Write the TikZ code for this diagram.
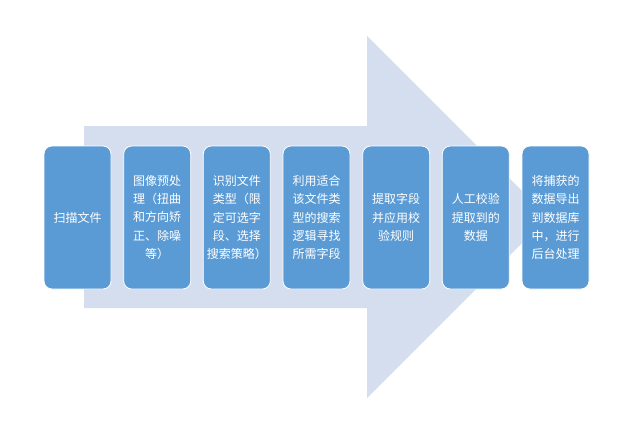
\documentclass[tikz,border=0pt]{standalone}
\usepackage{fontspec}
\newfontfamily\cjk{Noto Sans CJK SC}
\definecolor{arrowfill}{HTML}{D4DEEF}
\definecolor{boxfill}{HTML}{5B9BD5}
\tikzset{
  stepbox/.style={draw=white, line width=0.8pt, fill=boxfill, rounded corners=8pt,
    minimum width=67pt, minimum height=143pt, inner sep=0pt, align=center,
    text=white, font=\cjk\fontsize{12}{18.4}\selectfont},
}
\begin{document}
\begin{tikzpicture}[x=1pt,y=-1pt]
\useasboundingbox (0,0) rectangle (624,434);
\fill[arrowfill] (84,126) -- (367,126) -- (367,36) -- (548,217) -- (367,398) -- (367,308) -- (84,308) -- cycle;
\node[stepbox] (b1) at (77.5,217.5) {扫描文件};
\node[stepbox] (b2) at (157.2,217.5) {图像预处\\理（扭曲\\和方向矫\\正、除噪\\等）};
\node[stepbox] (b3) at (236.8,217.5) {识别文件\\类型（限\\定可选字\\段、选择\\搜索策略）};
\node[stepbox] (b4) at (316.5,217.5) {利用适合\\该文件类\\型的搜索\\逻辑寻找\\所需字段};
\node[stepbox] (b5) at (396.2,217.5) {提取字段\\并应用校\\验规则};
\node[stepbox] (b6) at (475.8,217.5) {人工校验\\提取到的\\数据};
\node[stepbox] (b7) at (555.5,217.5) {将捕获的\\数据导出\\到数据库\\中，进行\\后台处理};
\end{tikzpicture}
\end{document}
